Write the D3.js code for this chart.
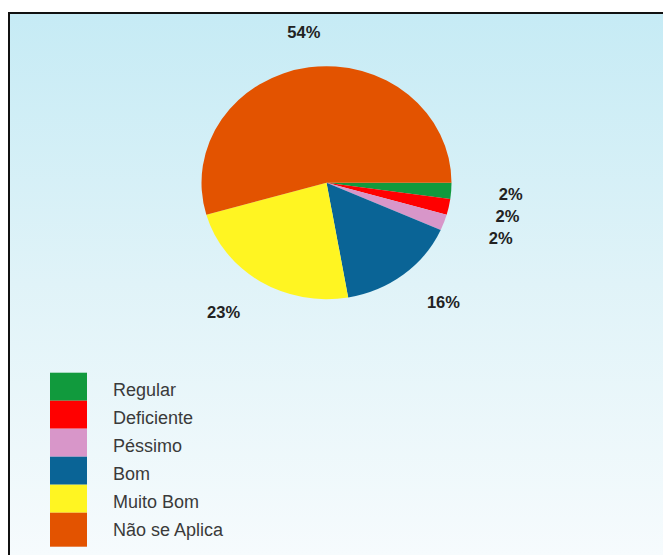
<!DOCTYPE html>
<html>
<head>
<meta charset="utf-8">
<script src="https://cdn.jsdelivr.net/npm/d3@7/dist/d3.min.js"></script>
<style>
  html, body { margin: 0; padding: 0; background: #ffffff; }
  svg { display: block; }
</style>
</head>
<body>
<svg id="chart" width="663" height="555"></svg>
<script>
// ---- data ----
const categories = ["Regular", "Deficiente", "Péssimo", "Bom", "Muito Bom", "Não se Aplica"];
const values = [2, 2, 2, 14, 21, 49];
const colors = ["#119a3d", "#ff0000", "#d896c9", "#0a6496", "#fff522", "#e35300"];

// ---- layout ----
const W = 663, H = 555;
const cx = 326.5, cy = 182.7;
const ry = 116.5, rx = 125;
const sx = rx / ry;

const svg = d3.select("#chart");
const defs = svg.append("defs");
const grad = defs.append("linearGradient").attr("id", "bg").attr("x1", 0).attr("y1", 0).attr("x2", 0).attr("y2", 1);
grad.append("stop").attr("offset", "0%").attr("stop-color", "#c6ebf5");
grad.append("stop").attr("offset", "50%").attr("stop-color", "#e0f3f8");
grad.append("stop").attr("offset", "100%").attr("stop-color", "#f6fbfd");

svg.append("rect").attr("x", 0).attr("y", 0).attr("width", W).attr("height", H).attr("fill", "#ffffff");
svg.append("rect").attr("x", 9).attr("y", 13).attr("width", W - 9).attr("height", H - 13).attr("fill", "url(#bg)");
svg.append("line").attr("x1", 8).attr("x2", W).attr("y1", 13).attr("y2", 13).attr("stroke", "#111").attr("stroke-width", 2);
svg.append("line").attr("x1", 9).attr("x2", 9).attr("y1", 12).attr("y2", H).attr("stroke", "#111").attr("stroke-width", 2);

const total = d3.sum(values);
const data = categories.map((c, i) => ({ name: c, value: values[i], color: colors[i] }));

const pie = d3.pie().value(d => d.value).sort(null)
  .startAngle(Math.PI / 2).endAngle(Math.PI / 2 + 2 * Math.PI);
const arcs = pie(data);
const arc = d3.arc().innerRadius(0).outerRadius(ry);

const g = svg.append("g").attr("transform", `translate(${cx},${cy}) scale(${sx},1)`);
g.selectAll("path").data(arcs).join("path")
  .attr("d", arc)
  .attr("fill", d => d.data.color);

// labels
const lg = svg.append("g").attr("transform", `translate(${cx},${cy})`);
arcs.forEach(a => {
  const mid = (a.startAngle + a.endAngle) / 2;
  const frac = a.data.value / total;
  const R = frac < 0.05 ? 161 : 152;
  const s = Math.sin(mid), c = -Math.cos(mid);
  const x = s * R * sx, y = c * R;
  const anchor = s > 0.3 ? "start" : (s < -0.3 ? "end" : "middle");
  lg.append("text")
    .attr("x", x).attr("y", y + 6)
    .attr("text-anchor", anchor)
    .attr("font-family", "Liberation Sans, Arial, sans-serif")
    .attr("font-weight", "bold")
    .attr("font-size", "16.5px")
    .attr("fill", "#222")
    .text(Math.round(frac * 100) + "%");
});

// legend
const legTop = 372.7, rowH = 28, boxX = 50, boxW = 37, textX = 113;
const leg = svg.append("g");
data.forEach((d, i) => {
  const last = i === data.length - 1;
  leg.append("rect")
    .attr("x", boxX).attr("y", legTop + i * rowH)
    .attr("width", boxW).attr("height", rowH + (last ? 6 : 0))
    .attr("fill", d.color);
  leg.append("text")
    .attr("x", textX).attr("y", legTop + i * rowH + 23.5)
    .attr("font-family", "Liberation Sans, Arial, sans-serif")
    .attr("font-size", "18px")
    .attr("fill", "#3a3a3a")
    .text(d.name);
});
</script>
</body>
</html>
